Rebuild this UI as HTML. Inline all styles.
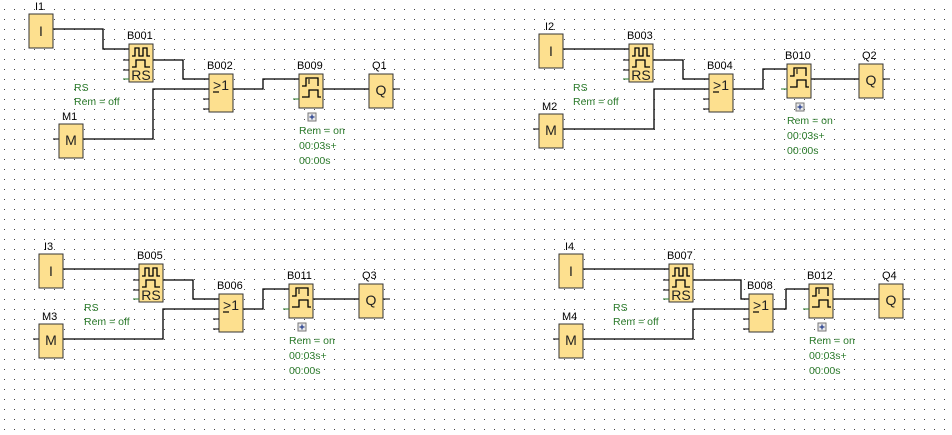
<!DOCTYPE html>
<html><head><meta charset="utf-8"><style>
html,body{margin:0;padding:0;background:#fff;}
svg{display:block;}
text{font-family:"Liberation Sans",sans-serif;}
.lb{font-size:11px;fill:#000;}
.g{font-size:10.5px;fill:#2a7a2a;}
.bt{font-size:14px;fill:#222;text-anchor:middle;}
.w{fill:none;stroke:#000;stroke-width:1.3;}
.bx{fill:#fde08f;stroke:#333;stroke-width:1;}
.ic{fill:none;stroke:#000;stroke-width:1.3;}
</style></head><body>
<svg width="952" height="435" viewBox="0 0 952 435" xmlns="http://www.w3.org/2000/svg">
<defs>
<pattern id="dots" x="4" y="9" width="10" height="10" patternUnits="userSpaceOnUse">
<rect x="0" y="0" width="1" height="1" fill="#444"/>
</pattern>
<g id="IB"><rect class="bx" x="0" y="0" width="24" height="34"/></g>
<g id="MB"><line x1="-6" y1="15" x2="0" y2="15" stroke="#000"/><rect class="bx" x="0" y="0" width="24" height="34"/></g>
<g id="QB"><rect class="bx" x="0" y="0" width="24" height="34"/><line x1="24" y1="15" x2="31" y2="15" stroke="#000"/></g>
<g id="RB"><rect class="bx" x="0" y="0" width="24" height="38"/>
<line x1="-6" y1="16" x2="0" y2="16" stroke="#000"/><line x1="-6" y1="26" x2="0" y2="26" stroke="#000"/><line x1="-6" y1="35" x2="0" y2="35" stroke="#2a7a2a"/>
<path class="ic" d="M3,12 h3 v-8 h4 v8 h4 v-8 h4 v8 h3"/>
<path class="ic" d="M3,23 h4 v-7 h9 v7 h5"/></g>
<g id="OB"><rect class="bx" x="0" y="0" width="24" height="38"/>
<line x1="-6" y1="25" x2="0" y2="25" stroke="#000"/><line x1="-6" y1="35" x2="0" y2="35" stroke="#000"/>
<line x1="4" y1="18" x2="10" y2="18" stroke="#000" stroke-width="1.2"/></g>
<g id="TB"><rect class="bx" x="0" y="0" width="24" height="34"/>
<line x1="-6" y1="25" x2="0" y2="25" stroke="#2a7a2a"/>
<path class="ic" d="M3,12 h4 v-8 h12 v8"/><line x1="10" y1="5" x2="10" y2="10" stroke="#000"/>
<path class="ic" d="M3,23 h7 v-7 h9 v7 h3"/>
<rect x="9" y="39" width="8" height="8" fill="#e8e8e8" stroke="#777"/>
<path d="M13,40.5 v5 M10.5,43 h5" stroke="#223a8a" stroke-width="1.2"/></g>
</defs>
<rect width="952" height="435" fill="url(#dots)"/>

<!-- Group 1 -->
<path class="w" d="M53,29 H103 V49 H129"/>
<path class="w" d="M153,60 H183 V79 H209"/>
<path class="w" d="M83,139 H153 V89 H209"/>
<path class="w" d="M233,89 H263 V79 H299"/>
<path class="w" d="M323,89 H369"/>
<use href="#IB" x="29" y="14"/><text class="bt" x="41" y="36">I</text><text class="lb" x="35" y="10">I1</text>
<use href="#RB" x="129" y="44"/><text class="bt" x="141" y="80">RS</text><text class="lb" x="127" y="39">B001</text>
<use href="#OB" x="209" y="74"/><text class="bt" x="221" y="90">&gt;1</text><text class="lb" x="207" y="69">B002</text>
<use href="#MB" x="59" y="124"/><text class="bt" x="71" y="145">M</text><text class="lb" x="62" y="120">M1</text>
<use href="#TB" x="299" y="74"/><text class="lb" x="297" y="69">B009</text>
<use href="#QB" x="369" y="74"/><text class="bt" x="381" y="95">Q</text><text class="lb" x="372" y="69">Q1</text>
<text class="g" x="74" y="91">RS</text><text class="g" x="74" y="105">Rem = off</text>
<text class="g" x="299" y="134">Rem = on</text><text class="g" x="299" y="149">00:03s+</text><text class="g" x="299" y="164">00:00s</text>

<!-- Group 2 -->
<path class="w" d="M563,49 H629"/>
<path class="w" d="M653,60 H683 V79 H709"/>
<path class="w" d="M563,129 H654 V89 H709"/>
<path class="w" d="M733,89 H763 V69 H787"/>
<path class="w" d="M811,79 H859"/>
<use href="#IB" x="539" y="34"/><text class="bt" x="551" y="56">I</text><text class="lb" x="545" y="30">I2</text>
<use href="#RB" x="629" y="44"/><text class="bt" x="641" y="80">RS</text><text class="lb" x="627" y="39">B003</text>
<use href="#OB" x="709" y="74"/><text class="bt" x="721" y="90">&gt;1</text><text class="lb" x="707" y="69">B004</text>
<use href="#MB" x="539" y="114"/><text class="bt" x="551" y="135">M</text><text class="lb" x="542" y="110">M2</text>
<use href="#TB" x="787" y="64"/><text class="lb" x="785" y="59">B010</text>
<use href="#QB" x="859" y="64"/><text class="bt" x="871" y="85">Q</text><text class="lb" x="862" y="59">Q2</text>
<text class="g" x="573" y="91">RS</text><text class="g" x="573" y="105">Rem = off</text>
<text class="g" x="787" y="124">Rem = on</text><text class="g" x="787" y="139">00:03s+</text><text class="g" x="787" y="154">00:00s</text>

<!-- Group 3 -->
<path class="w" d="M63,269 H139"/>
<path class="w" d="M163,280 H193 V299 H219"/>
<path class="w" d="M63,339 H163 V309 H219"/>
<path class="w" d="M243,309 H263 V289 H289"/>
<path class="w" d="M313,299 H359"/>
<use href="#IB" x="39" y="254"/><text class="bt" x="51" y="276">I</text><text class="lb" x="44" y="250">I3</text>
<use href="#RB" x="139" y="264"/><text class="bt" x="151" y="300">RS</text><text class="lb" x="137" y="259">B005</text>
<use href="#OB" x="219" y="294"/><text class="bt" x="231" y="310">&gt;1</text><text class="lb" x="217" y="289">B006</text>
<use href="#MB" x="39" y="324"/><text class="bt" x="51" y="345">M</text><text class="lb" x="42" y="320">M3</text>
<use href="#TB" x="289" y="284"/><text class="lb" x="287" y="279">B011</text>
<use href="#QB" x="359" y="284"/><text class="bt" x="371" y="305">Q</text><text class="lb" x="362" y="279">Q3</text>
<text class="g" x="84" y="311">RS</text><text class="g" x="84" y="325">Rem = off</text>
<text class="g" x="289" y="344">Rem = on</text><text class="g" x="289" y="359">00:03s+</text><text class="g" x="289" y="374">00:00s</text>

<!-- Group 4 -->
<path class="w" d="M583,269 H669"/>
<path class="w" d="M693,280 H741 V299 H749"/>
<path class="w" d="M583,339 H693 V309 H749"/>
<path class="w" d="M773,309 H786 V289 H809"/>
<path class="w" d="M833,299 H879"/>
<use href="#IB" x="559" y="254"/><text class="bt" x="571" y="276">I</text><text class="lb" x="565" y="250">I4</text>
<use href="#RB" x="669" y="264"/><text class="bt" x="681" y="300">RS</text><text class="lb" x="667" y="259">B007</text>
<use href="#OB" x="749" y="294"/><text class="bt" x="761" y="310">&gt;1</text><text class="lb" x="747" y="289">B008</text>
<use href="#MB" x="559" y="324"/><text class="bt" x="571" y="345">M</text><text class="lb" x="562" y="320">M4</text>
<use href="#TB" x="809" y="284"/><text class="lb" x="807" y="279">B012</text>
<use href="#QB" x="879" y="284"/><text class="bt" x="891" y="305">Q</text><text class="lb" x="882" y="279">Q4</text>
<text class="g" x="613" y="311">RS</text><text class="g" x="613" y="325">Rem = off</text>
<text class="g" x="809" y="344">Rem = on</text><text class="g" x="809" y="359">00:03s+</text><text class="g" x="809" y="374">00:00s</text>
</svg>
</body></html>
